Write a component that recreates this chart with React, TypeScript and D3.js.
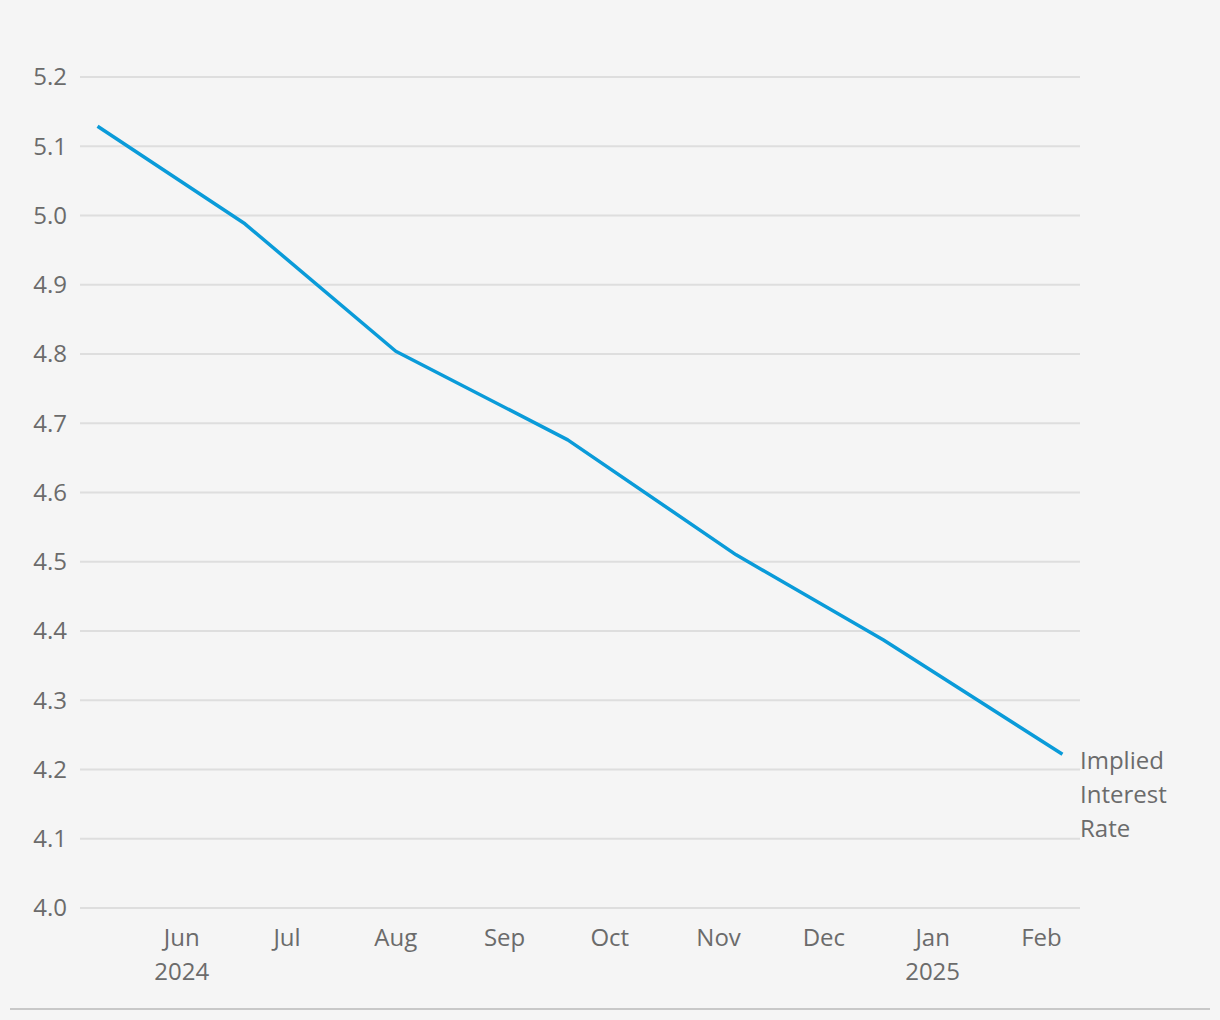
import React from "react";
import * as d3 from "d3";

const dates: string[] = ["2024-05-22", "2024-07-03", "2024-08-15", "2024-10-03", "2024-11-20", "2025-01-01", "2025-02-21"];
const rates: number[] = [5.129, 4.988, 4.804, 4.676, 4.51, 4.387, 4.222];
const yTicks: number[] = [4.0, 4.1, 4.2, 4.3, 4.4, 4.5, 4.6, 4.7, 4.8, 4.9, 5.0, 5.1, 5.2];
const monthTicks: string[] = ["2024-06-15", "2024-07-15", "2024-08-15", "2024-09-15", "2024-10-15", "2024-11-15", "2024-12-15", "2025-01-15", "2025-02-15"];
const monthLabels: string[] = ["Jun", "Jul", "Aug", "Sep", "Oct", "Nov", "Dec", "Jan", "Feb"];
const yearLabels: string[] = ["2024", "", "", "", "", "", "", "2025", ""];
const seriesLabel: string[] = ["Implied", "Interest", "Rate"];

const W = 1220;
const H = 1020;
const left = 80;
const right = 1080;
const top = 77;
const bottom = 908;
const FONT = "'Open Sans', 'Noto Sans', sans-serif";
const TXT = "#6b6b6b";

export default function App() {
  const parse = d3.utcParse("%Y-%m-%d");
  const x = d3
    .scaleUtc()
    .domain([parse("2024-05-17")!, parse("2025-02-26")!])
    .range([left, right]);
  const y = d3.scaleLinear().domain([4.0, 5.2]).range([bottom, top]);
  const pts = dates.map((d, i) => [x(parse(d)!), y(rates[i])] as [number, number]);
  const line = d3.line()(pts) || "";
  const last = pts[pts.length - 1];

  return (
    <svg
      width={W}
      height={H}
      style={{ position: "absolute", left: 0, top: 0, background: "#f5f5f5" }}
      fontFamily={FONT}
    >
      <rect x={0} y={0} width={W} height={H} fill="#f5f5f5" />
      {yTicks.map((t) => (
        <g key={t}>
          <line x1={left} x2={right} y1={y(t)} y2={y(t)} stroke="#dedede" strokeWidth={2} />
          <text x={67} y={y(t)} dy="0.35em" textAnchor="end" fontSize={24} fill={TXT}>
            {t.toFixed(1)}
          </text>
        </g>
      ))}
      {monthTicks.map((m, i) => {
        const xx = x(parse(m)!);
        return (
          <g key={m}>
            <text x={xx} y={946} textAnchor="middle" fontSize={24} fill={TXT}>
              {monthLabels[i]}
            </text>
            {yearLabels[i] && (
              <text x={xx} y={980} textAnchor="middle" fontSize={24} fill={TXT}>
                {yearLabels[i]}
              </text>
            )}
          </g>
        );
      })}
      <path d={line} fill="none" stroke="#0a9bd9" strokeWidth={3.5} strokeLinejoin="round" />
      {seriesLabel.map((s, i) => (
        <text key={s} x={right} y={last[1] + 15 + i * 34} fontSize={24} fill={TXT}>
          {s}
        </text>
      ))}
      <line x1={10} x2={1210} y1={1009} y2={1009} stroke="#c8c8c8" strokeWidth={2} />
    </svg>
  );
}
